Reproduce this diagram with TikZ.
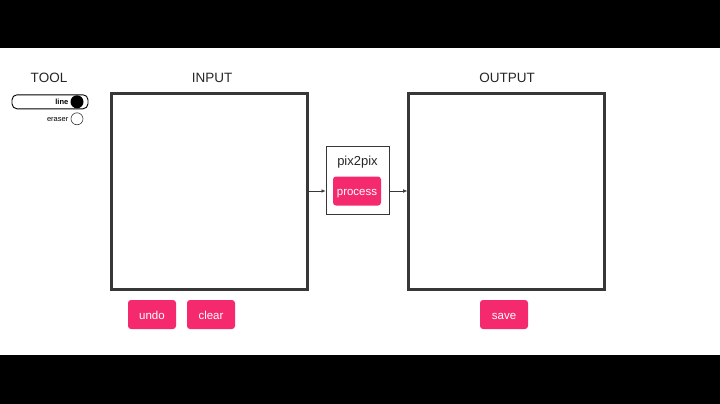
\documentclass[tikz,border=0pt]{standalone}
\usepackage{fontspec}
\setmainfont{Liberation Sans}
\usetikzlibrary{arrows.meta}
\definecolor{pinkbtn}{RGB}{245,42,110}
\definecolor{boxgray}{RGB}{55,55,55}
\tikzset{
  canvas/.style={draw=boxgray, line width=2.6pt, minimum width=196pt, minimum height=196pt, inner sep=0pt},
  btn/.style={fill=pinkbtn, rounded corners=3pt, text=white, font=\fontsize{11.5}{12}\selectfont, minimum width=48pt, minimum height=29pt, inner sep=0pt, text height=9.8pt, text depth=0pt},
  lbl/.style={font=\fontsize{13.5}{14}\selectfont, text=black!85, inner sep=0pt, anchor=base},
  conn/.style={draw=boxgray, line width=0.5pt, -{Latex[length=4pt,width=3.5pt]}},
  small/.style={font=\fontsize{7.5}{8}\selectfont, inner sep=0pt, anchor=base east}
}
\begin{document}
\begin{tikzpicture}[x=1pt,y=-1pt]
\useasboundingbox (0,0) rectangle (720,404);
\fill[black] (0,0) rectangle (720,48);
\fill[black] (0,355) rectangle (720,404);
% tool
\node[lbl] (tool) at (49,82.5) {TOOL};
\node[draw=black, line width=0.9pt, rounded corners=5pt, minimum width=76pt, minimum height=14pt, inner sep=0pt] (linebox) at (50,101.8) {};
\node[small, font=\bfseries\fontsize{7.5}{8}\selectfont] (linetxt) at (68.5,104.6) {line};
\node[circle, fill=black, minimum size=13pt, inner sep=0pt] (linedot) at (77,101.8) {};
\node[small] (erasertxt) at (68.5,121.3) {eraser};
\node[circle, draw=boxgray, line width=0.6pt, minimum size=12pt, inner sep=0pt] (eraserdot) at (77,118.8) {};
% input / output
\node[lbl] (inlbl) at (212,82.5) {INPUT};
\node[canvas] (input) at (209.5,191.5) {};
\node[lbl] (outlbl) at (507,82.5) {OUTPUT};
\node[canvas] (output) at (506.5,191.5) {};
% pix2pix
\node[draw=boxgray, line width=0.9pt, minimum width=63pt, minimum height=68pt, inner sep=0pt] (pix) at (357.5,180) {};
\node[lbl, font=\fontsize{13}{14}\selectfont] (pixlbl) at (357.5,165) {pix2pix};
\node[btn] (process) at (357,191) {process};
\draw[conn] (input.east |- process) -- (pix.west |- process);
\draw[conn] (pix.east |- process) -- (output.west |- process);
% buttons
\node[btn] (undo) at (152,314.5) {undo};
\node[btn] (clear) at (211,314.5) {clear};
\node[btn] (save) at (504,314.5) {save};
\end{tikzpicture}
\end{document}
